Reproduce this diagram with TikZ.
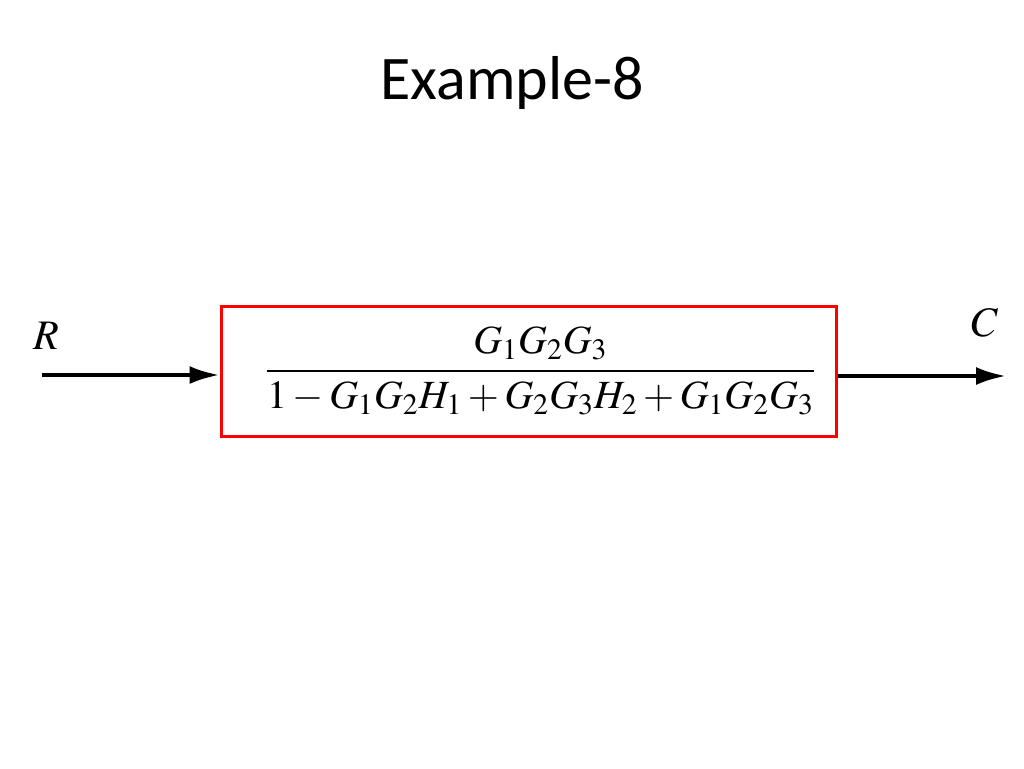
\documentclass[tikz,border=0pt]{standalone}
\usepackage{mathptmx}
\usepackage{fontspec}
\newfontfamily\titlefont{Carlito}
\usetikzlibrary{arrows.meta}
\begin{document}
\begin{tikzpicture}[x=0.5pt,y=-0.5pt,
  sig/.style={line width=2pt,-{Latex[length=15pt,width=9pt]}}]
\useasboundingbox (0,0) rectangle (1024,768);
\node[font=\titlefont\fontsize{31}{36}\selectfont] (title) at (512,83) {Example-8};
\node[draw=red,line width=1.5pt,minimum width=307.5pt,minimum height=65pt,inner sep=0pt] (tf) at (528.5,371)
  {\hspace*{12pt}\fontsize{20}{24}\selectfont$\displaystyle\frac{G_1G_2G_3}{1-G_1G_2H_1+G_2G_3H_2+G_1G_2G_3}$};
\coordinate (in) at (42,375);
\coordinate (out) at (1006,376);
\draw[sig] (in) -- (tf.west|-in);
\draw[sig] (tf.east|-out) -- (out);
\node[font=\fontsize{21}{25}\selectfont] (R) at (46,336) {$R$};
\node[font=\fontsize{21}{25}\selectfont] (C) at (985,323) {$C$};
\end{tikzpicture}
\end{document}
